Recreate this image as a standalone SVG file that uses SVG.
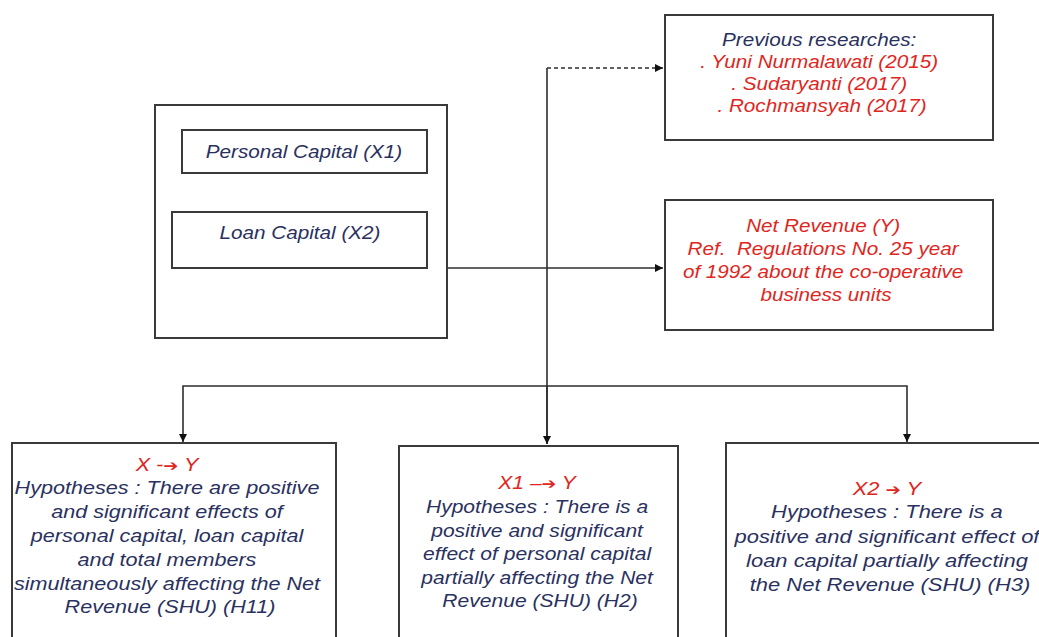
<svg xmlns="http://www.w3.org/2000/svg" width="1039" height="637" viewBox="0 0 1039 637">
<defs>
<style>
.box{fill:#fff;stroke:#3a3a3a;stroke-width:2}
.ln{fill:none;stroke:#2e2e2e;stroke-width:1.6}
.dash{stroke-dasharray:4 3}
.t{font-family:"Liberation Sans",Arial,sans-serif;font-style:italic;font-size:18px;text-anchor:middle}
.nv{fill:#2a3160}
.rd{fill:#e0261d}
.ar{font-family:"DejaVu Sans",sans-serif;font-style:normal;font-weight:bold;font-size:15px}
</style>
<marker id="ah" viewBox="0 0 10 10" refX="10" refY="5" markerWidth="5" markerHeight="5" markerUnits="strokeWidth" orient="auto">
<path d="M0,0 L10,5 L0,10 z" fill="#111"/>
</marker>
</defs>
<rect width="1039" height="637" fill="#fff"/>
<g id="connectors">
<path class="ln" d="M547,444 L547,68"/>
<path class="ln dash" d="M547,68 L663,68" marker-end="url(#ah)"/>
<path class="ln" d="M547,386 L547,444" marker-end="url(#ah)"/>
<path class="ln" d="M447,268 L663,268" marker-end="url(#ah)"/>
<path class="ln" d="M547,386 L183,386 L183,442" marker-end="url(#ah)"/>
<path class="ln" d="M547,386 L907,386 L907,442" marker-end="url(#ah)"/>
</g>
<g id="inputs">
<rect class="box" x="155" y="105" width="292" height="233"/>
</g>
<g id="personal-capital">
<rect class="box" x="182" y="130" width="245" height="43"/>
<text class="t nv" transform="translate(304,0) scale(1.15,1)"><tspan x="0" y="158">Personal Capital (X1)</tspan></text>
</g>
<g id="loan-capital">
<rect class="box" x="172" y="212" width="255" height="56"/>
<text class="t nv" transform="translate(300,0) scale(1.15,1)"><tspan x="0" y="239">Loan Capital (X2)</tspan></text>
</g>
<g id="previous-research">
<rect class="box" x="665" y="15" width="328" height="125"/>
<text class="t" transform="translate(822,0) scale(1.15,1)">
<tspan class="nv" x="0" y="46">Previous researches:</tspan>
<tspan class="rd" x="0" y="68">. Yuni Nurmalawati (2015)</tspan>
<tspan class="rd" x="0" y="90">. Sudaryanti (2017)</tspan>
<tspan class="rd" x="0" y="112">. Rochmansyah (2017)</tspan>
</text>
</g>
<g id="net-revenue">
<rect class="box" x="665" y="200" width="328" height="130"/>
<text class="t rd" transform="translate(826,0) scale(1.15,1)">
<tspan x="0" y="232">Net Revenue (Y)</tspan>
<tspan x="0" y="255">Ref.&#160; Regulations No. 25 year</tspan>
<tspan x="0" y="278">of 1992 about the co-operative</tspan>
<tspan x="0" y="301">business units</tspan>
</text>
</g>
<g id="h1">
<rect class="box" x="12" y="443" width="324" height="210"/>
<text class="t nv" transform="translate(170,0) scale(1.2,1)">
<tspan class="rd" x="0" y="471">X -<tspan class="ar">➔</tspan> Y</tspan>
<tspan x="0" y="494">Hypotheses : There are positive</tspan>
<tspan x="0" y="518">and significant effects of</tspan>
<tspan x="0" y="542">personal capital, loan capital</tspan>
<tspan x="0" y="566">and total members</tspan>
<tspan x="0" y="590">simultaneously affecting the Net</tspan>
<tspan x="0" y="613">Revenue (SHU) (H11)</tspan>
</text>
</g>
<g id="h2">
<rect class="box" x="399" y="446" width="279" height="210"/>
<text class="t nv" transform="translate(540,0) scale(1.17,1)">
<tspan class="rd" x="0" y="489">X1 –<tspan class="ar">➔</tspan> Y</tspan>
<tspan x="0" y="513">Hypotheses : There is a</tspan>
<tspan x="0" y="537">positive and significant</tspan>
<tspan x="0" y="560">effect of personal capital</tspan>
<tspan x="0" y="584">partially affecting the Net</tspan>
<tspan x="0" y="607">Revenue (SHU) (H2)</tspan>
</text>
</g>
<g id="h3">
<rect class="box" x="726" y="443" width="330" height="210"/>
<text class="t nv" transform="translate(890,0) scale(1.22,1)">
<tspan class="rd" x="0" y="495">X2 <tspan class="ar">➔</tspan> Y</tspan>
<tspan x="0" y="518">Hypotheses : There is a</tspan>
<tspan x="0" y="543">positive and significant effect of</tspan>
<tspan x="0" y="567">loan capital partially affecting</tspan>
<tspan x="0" y="591">the Net Revenue (SHU) (H3)</tspan>
</text>
</g>
</svg>
